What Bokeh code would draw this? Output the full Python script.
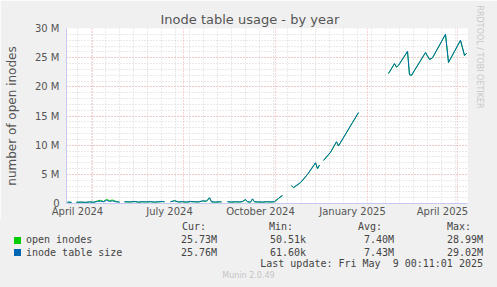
import numpy as np
import pandas as pd
from bokeh.plotting import figure
from bokeh.layouts import column
from bokeh.models import (Range1d, FixedTicker, Grid, CustomJSTickFormatter, Title,
                          ColumnDataSource, Div)
from bokeh.embed import file_html
from bokeh.resources import INLINE

nan = float("nan")

# ---- data (values in millions) ----
dates = [
    "2024-03-07", "2024-03-11", "2024-03-14", "2024-03-16", "2024-03-21", "2024-03-25",
    "2024-03-29", "2024-04-02", "2024-04-06", "2024-04-09", "2024-04-12", "2024-04-15",
    "2024-04-18", "2024-04-21", "2024-04-24", "2024-04-28", "2024-05-01", "2024-05-03",
    "2024-05-09", "2024-05-13", "2024-05-17", "2024-05-21", "2024-05-25", "2024-05-29",
    "2024-06-02", "2024-06-06", "2024-06-10", "2024-06-12", "2024-06-14", "2024-06-18",
    "2024-06-22", "2024-06-26", "2024-06-30", "2024-07-04", "2024-07-08", "2024-07-12",
    "2024-07-16", "2024-07-20", "2024-07-24", "2024-07-27", "2024-07-29", "2024-08-02",
    "2024-08-06", "2024-08-08", "2024-08-10", "2024-08-14", "2024-08-18", "2024-08-22",
    "2024-08-26", "2024-08-29", "2024-09-01", "2024-09-03", "2024-09-06", "2024-09-08",
    "2024-09-10", "2024-09-14", "2024-09-18", "2024-09-22", "2024-09-26", "2024-09-30",
    "2024-10-04", "2024-10-08", "2024-10-12", "2024-10-17", "2024-10-19", "2024-10-26",
    "2024-11-02", "2024-11-10", "2024-11-12", "2024-11-14", "2024-11-16", "2024-11-18",
    "2024-11-25", "2024-12-01", "2024-12-03", "2024-12-10", "2024-12-17", "2024-12-23",
    "2025-01-05", "2025-01-22", "2025-01-28", "2025-01-30", "2025-02-01", "2025-02-10",
    "2025-02-12", "2025-02-14", "2025-02-28", "2025-03-04", "2025-03-07", "2025-03-20",
    "2025-03-23", "2025-04-04", "2025-04-08", "2025-04-10",
]
inode_table_size = [
    0.25, 0.20, nan, 0.22, 0.25, 0.20,
    0.28, 0.22, 0.35, 0.40, 0.30, 0.55,
    0.35, 0.45, 0.30, 0.25, nan, 0.30,
    0.28, 0.35, 0.25, 0.30, 0.28, 0.32,
    0.25, 0.30, 0.35, 0.30, nan, 0.30,
    0.45, 0.28, 0.32, 0.25, 0.35, 0.30,
    0.28, 0.45, 0.40, 1.00, 0.30, 0.25,
    0.30, 0.28, nan, 0.32, 0.25, 0.30,
    0.28, 0.35, 0.70, 0.30, 0.25, 0.80,
    0.30, 0.28, 0.25, 0.30, 0.28, 0.32,
    0.90, 1.40, nan, 3.10, 2.75, 3.60,
    5.00, 7.00, 6.00, 6.60, nan, 7.40,
    8.80, 10.60, 9.90, 11.90, 13.90, 15.60,
    nan, 22.30, 24.00, 23.40, 23.70, 26.10,
    22.10, 22.00, 25.90, 24.70, 25.00, 29.02,
    24.20, 28.00, 25.40, 25.76,
]
open_inodes = [
    0.22, 0.18, nan, 0.20, 0.22, 0.18,
    0.25, 0.20, 0.45, 0.55, 0.35, 0.70,
    0.50, 0.60, 0.40, 0.22, nan, 0.28,
    0.25, 0.32, 0.22, 0.28, 0.25, 0.30,
    0.22, 0.28, 0.32, 0.28, nan, 0.28,
    0.50, 0.25, 0.30, 0.22, 0.32, 0.28,
    0.25, 0.42, 0.38, 0.95, 0.28, 0.22,
    0.28, 0.25, nan, 0.30, 0.22, 0.28,
    0.25, 0.32, 0.65, 0.28, 0.22, 0.75,
    0.28, 0.25, 0.22, 0.28, 0.25, 0.30,
    0.85, 1.35, nan, 3.05, 2.70, 3.55,
    4.95, 6.95, 5.95, 6.55, nan, 7.35,
    8.75, 10.55, 9.85, 11.85, 13.85, 15.55,
    nan, 22.25, 23.95, 23.35, 23.65, 26.05,
    22.05, 21.95, 25.85, 24.65, 24.95, 28.99,
    24.15, 27.95, 25.35, 25.73,
]

x_start, x_end = "2024-03-06", "2025-04-11"
quarter_lines = ["2024-04-01", "2024-07-01", "2024-10-01", "2025-01-01", "2025-04-01"]
label_dates = ["2024-03-17", "2024-06-17", "2024-09-16", "2024-12-17", "2025-03-17"]
label_texts = ["April 2024", "July 2024", "October 2024", "January 2025", "April 2025"]
minor_lines = ["2024-03-17", "2024-03-31", "2024-04-14", "2024-04-28", "2024-05-12",
               "2024-05-26", "2024-06-09", "2024-06-23", "2024-07-07", "2024-07-21",
               "2024-08-04", "2024-08-18", "2024-09-01", "2024-09-15", "2024-09-29",
               "2024-10-13", "2024-10-27", "2024-11-10", "2024-11-24", "2024-12-08",
               "2024-12-22", "2025-01-05", "2025-01-19", "2025-02-02", "2025-02-16",
               "2025-03-02", "2025-03-16", "2025-03-30"]
y_major = [0, 5, 10, 15, 20, 25, 30]
y_minor = list(range(0, 31))

series_names = ["open inodes", "inode table size"]
series_colors = ["#00cc00", "#0066b3"]
stat_headers = ["Cur:", "Min:", "Avg:", "Max:"]
stat_cur = ["25.73M", "25.76M"]
stat_min = ["50.51k", "61.60k"]
stat_avg = ["7.40M", "7.43M"]
stat_max = ["28.99M", "29.02M"]
last_update = "Last update: Fri May  9 00:11:01 2025"
footer = "Munin 2.0.49"


def ms(d):
    return int(pd.Timestamp(d).value // 10**6)


W = 497
H1 = 220          # chart part
H2 = 287 - H1     # legend part
FL, FT, FR, FB = 66, 28, 467, 203
BG = "#f0f0f0"
TXT = "#555555"

p = figure(width=W, height=H1, output_backend="svg", toolbar_location=None,
           x_axis_type="datetime",
           x_range=Range1d(ms(x_start), ms(x_end)), y_range=Range1d(0, 30),
           min_border_left=FL, min_border_right=W - FR, min_border_top=FT,
           min_border_bottom=H1 - FB)
p.background_fill_color = "white"
p.border_fill_color = BG
p.outline_line_color = None
p.grid.visible = False

p.title = Title(text="Inode table usage - by year", align="left", offset=94,
                text_font="DejaVu Sans", text_font_size="13px",
                text_font_style="normal", text_color=TXT, standoff=3)
p.add_layout(Title(text="RRDTOOL / TOBI OETIKER", align="left", offset=-23,
                   text_font="DejaVu Sans", text_font_size="8px",
                   text_font_style="normal", text_color="#c8c8c8", standoff=14),
             "right")

for dim, ticks, col in [(0, [ms(d) for d in minor_lines], "#d4d4d4"),
                        (1, y_minor, "#d4d4d4"),
                        (0, [ms(d) for d in quarter_lines], "#f0a8a8"),
                        (1, y_major, "#f0a8a8")]:
    p.add_layout(Grid(dimension=dim, ticker=FixedTicker(ticks=ticks),
                      grid_line_color=col, grid_line_dash="1 2", grid_line_width=1))

src = ColumnDataSource(dict(x=pd.to_datetime(dates), a=open_inodes, b=inode_table_size))
p.line("x", "a", source=src, color="#00cc00", line_width=1)
p.line("x", "b", source=src, color="#0066b3", line_width=1)

axis_col = "#c8c8f4"
xa = p.xaxis[0]
xa.ticker = FixedTicker(ticks=[ms(d) for d in label_dates])
xa.major_label_overrides = {ms(d): t for d, t in zip(label_dates, label_texts)}
xa.major_tick_line_color = None
xa.major_tick_out = 0
xa.major_tick_in = 0
xa.minor_tick_line_color = None
xa.axis_line_color = axis_col
xa.major_label_standoff = 2
xa.major_label_text_font = "DejaVu Sans"
xa.major_label_text_font_size = "10px"
xa.major_label_text_color = TXT

ya = p.yaxis[0]
ya.ticker = FixedTicker(ticks=y_major)
ya.formatter = CustomJSTickFormatter(code="return tick == 0 ? '0' : tick + ' M';")
ya.major_tick_line_color = None
ya.major_tick_out = 0
ya.major_tick_in = 0
ya.minor_tick_line_color = None
ya.axis_line_color = axis_col
ya.major_label_standoff = 7
ya.major_label_text_font = "DejaVu Sans"
ya.major_label_text_font_size = "10px"
ya.major_label_text_color = TXT
ya.axis_label = "number of open inodes"
ya.axis_label_text_font = "DejaVu Sans"
ya.axis_label_text_font_size = "12px"
ya.axis_label_text_font_style = "normal"
ya.axis_label_text_color = TXT
ya.axis_label_standoff = 13

# ---- legend / footer strip (HTML text) ----
LTXT = "#444444"


def span(text, cy, left=None, right=None, extra=""):
    pos = f"left:{left}px;" if left is not None else f"right:{W - right}px;"
    top = cy - H1 - 6
    return (f'<span style="position:absolute;{pos}top:{top}px;height:12px;'
            f'line-height:12px;white-space:pre;{extra}">{text}</span>')


parts = []
for t, x in zip(stat_headers, [182, 269, 358, 447]):
    parts.append(span(t, 227, left=x))
for i, (name, col) in enumerate(zip(series_names, series_colors)):
    cy = 240 + i * 12.5
    parts.append(f'<span style="position:absolute;left:14px;top:{cy - H1 - 3.5}px;'
                 f'width:7px;height:7px;background:{col};"></span>')
    parts.append(span(name, cy, left=26))
    for vals, xr in [(stat_cur, 217), (stat_min, 306), (stat_avg, 394), (stat_max, 483)]:
        parts.append(span(vals[i], cy, right=xr))
parts.append(span(last_update, 264, right=483))
parts.append(span(footer, 276, left=0, extra=f"width:{W}px;text-align:center;"
                  "font-family:'DejaVu Sans';font-size:8px;color:#c4c4c4;"))

html = (f'<div style="position:relative;width:{W}px;height:{H2}px;background:{BG};'
        f"font-family:'DejaVu Sans Mono';font-size:10px;color:{LTXT};\">"
        + "".join(parts) + "</div>")
legend = Div(text=html, width=W, height=H2, margin=0,
             styles={"background-color": BG})

layout = column(p, legend, spacing=0)
open("out.html", "w").write(file_html(layout, INLINE))
